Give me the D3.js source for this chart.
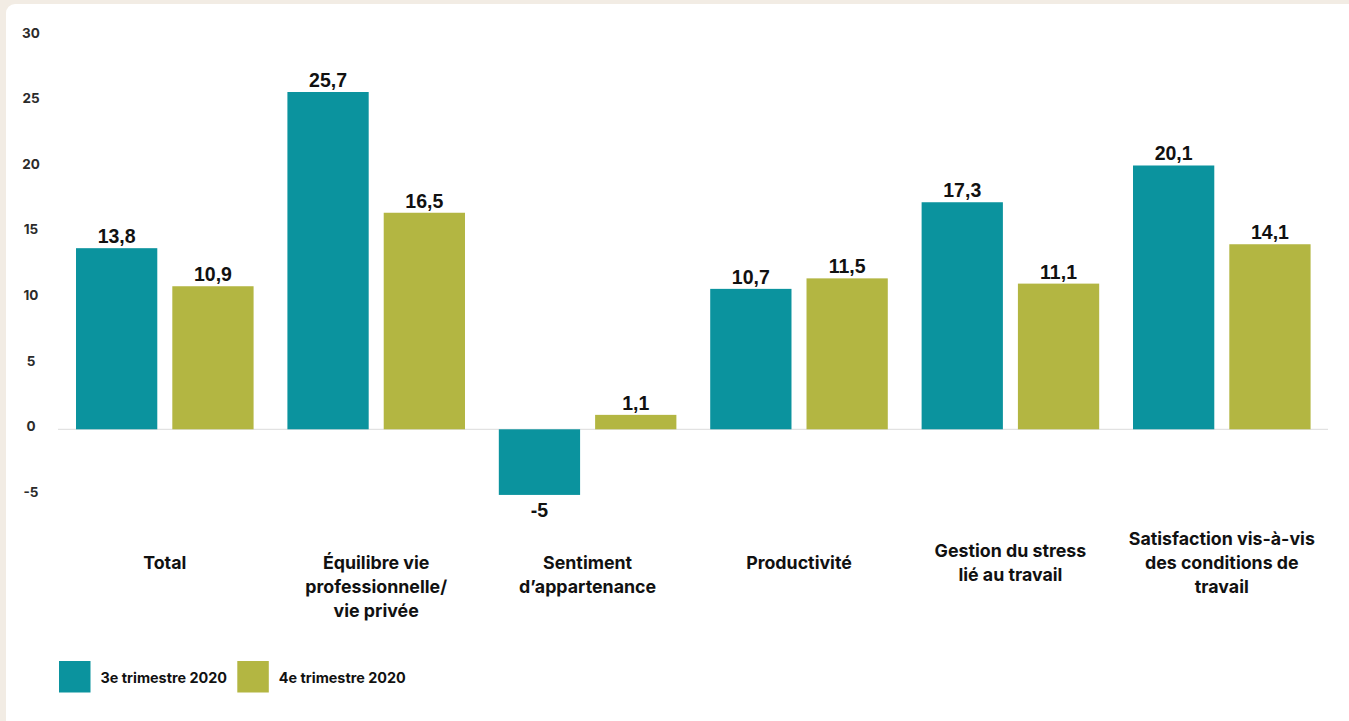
<!DOCTYPE html>
<html>
<head>
<meta charset="utf-8">
<script src="https://cdn.jsdelivr.net/npm/d3@7"></script>
<style>
  html, body { margin: 0; padding: 0; background: #f2ece4; }
  svg { display: block; }
</style>
</head>
<body>
<svg id="chart" width="1349" height="721"></svg>
<script>
// ---- Data ----
const categories = [
  ["Total"],
  ["Équilibre vie", "professionnelle/", "vie privée"],
  ["Sentiment", "d’appartenance"],
  ["Productivité"],
  ["Gestion du stress", "lié au travail"],
  ["Satisfaction vis-à-vis", "des conditions de", "travail"]
];
const seriesNames = ["3e trimestre 2020", "4e trimestre 2020"];
const q3Values = [13.8, 25.7, -5, 10.7, 17.3, 20.1];
const q4Values = [10.9, 16.5, 1.1, 11.5, 11.1, 14.1];
const yTicks = [-5, 0, 5, 10, 15, 20, 25, 30];

// ---- Styles ----
const colors = ["#0b939e", "#b3b642"];
const W = 1349, H = 721;
const geoFont = "Inter, 'Open Sans', sans-serif";

const svg = d3.select("#chart");

// card background
svg.append("rect")
  .attr("x", 6).attr("y", 4)
  .attr("width", W + 20).attr("height", H + 20)
  .attr("rx", 9).attr("fill", "#ffffff");

const y = d3.scaleLinear().domain([0, 25.7]).range([429.3, 92]);

const idx = categories.map((d, i) => i);
const x0 = d3.scaleBand().domain(idx).range([59.1, 1327.5])
  .paddingInner(0.16).paddingOuter(0.08);
const x1 = d3.scaleBand().domain([0, 1]).range([0, x0.bandwidth()])
  .paddingInner(0.156).paddingOuter(0);

// y tick labels
svg.append("g").selectAll("text").data(yTicks).join("text")
  .attr("x", 31)
  .attr("y", d => y(d) + 2)
  .attr("text-anchor", "middle")
  .attr("font-family", geoFont)
  .attr("font-weight", 700)
  .attr("font-size", 13.5)
  .attr("fill", "#2b2b2b")
  .text(d => d);

// zero line
svg.append("line")
  .attr("x1", 58).attr("x2", 1328)
  .attr("y1", y(0)).attr("y2", y(0))
  .attr("stroke", "#e2e2e2").attr("stroke-width", 1.2);

const rows = idx.map(i => ({ i, vals: [q3Values[i], q4Values[i]] }));

const groups = svg.append("g").selectAll("g").data(rows).join("g")
  .attr("transform", d => `translate(${x0(d.i)},0)`);

groups.selectAll("rect").data(d => d.vals.map((v, s) => ({ v, s }))).join("rect")
  .attr("x", d => x1(d.s))
  .attr("width", x1.bandwidth())
  .attr("y", d => Math.min(y(d.v), y(0)))
  .attr("height", d => Math.abs(y(d.v) - y(0)))
  .attr("fill", d => colors[d.s]);

groups.selectAll("text.val").data(d => d.vals.map((v, s) => ({ v, s }))).join("text")
  .attr("class", "val")
  .attr("x", d => x1(d.s) + x1.bandwidth() / 2)
  .attr("y", d => d.v >= 0 ? y(d.v) - 5 : y(d.v) + 22)
  .attr("text-anchor", "middle")
  .attr("font-family", "'Liberation Sans', Arial, sans-serif")
  .attr("font-weight", 700)
  .attr("font-size", 19.5)
  .attr("fill", "#111")
  .text(d => String(d.v).replace(".", ","));

// category labels
const firstLineY = [569, 569, 569, 569, 557, 545];
const catG = svg.append("g");
categories.forEach((lines, i) => {
  const t = catG.append("text")
    .attr("x", x0(i) + x0.bandwidth() / 2)
    .attr("y", firstLineY[i])
    .attr("text-anchor", "middle")
    .attr("font-family", geoFont)
    .attr("font-weight", 700)
    .attr("font-size", 17.8)
    .attr("fill", "#111");
  lines.forEach((ln, k) => {
    t.append("tspan").attr("x", x0(i) + x0.bandwidth() / 2)
      .attr("dy", k === 0 ? 0 : 24).text(ln);
  });
});

// legend
const legendX = [59, 237.3];
const lg = svg.append("g").selectAll("g").data(seriesNames).join("g")
  .attr("transform", (d, i) => `translate(${legendX[i]},661)`);
lg.append("rect").attr("width", 31.5).attr("height", 31.5)
  .attr("fill", (d, i) => colors[i]);
lg.append("text").attr("x", 41.5).attr("y", 21.5)
  .attr("font-family", geoFont)
  .attr("font-weight", 700)
  .attr("font-size", 14.4)
  .attr("fill", "#111")
  .text(d => d);
</script>
</body>
</html>
